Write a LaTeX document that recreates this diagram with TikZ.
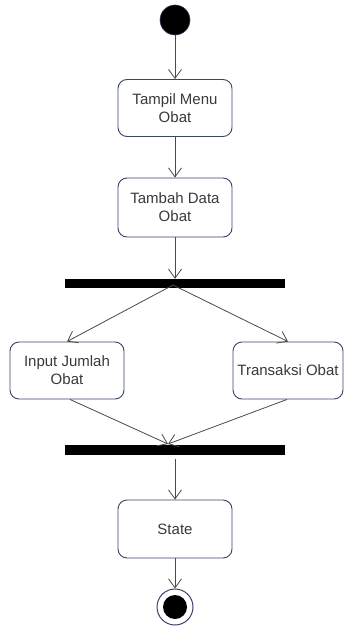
\documentclass[tikz,border=0pt]{standalone}
\usepackage{fontspec}
\setmainfont{Liberation Sans}
\usetikzlibrary{arrows.meta}
\definecolor{edgegray}{HTML}{4A4A4A}
\definecolor{boxline}{HTML}{3A4566}
\definecolor{txt}{HTML}{3A3A3A}
\begin{document}
\begin{tikzpicture}[x=1pt,y=-1pt,
  action/.style={draw=boxline, line width=0.9pt, rounded corners=9pt, fill=white,
    minimum width=114pt, minimum height=57pt, align=center, text=txt,
    font=\fontsize{15}{18}\selectfont, inner sep=1pt},
  bar/.style={fill=black, draw=none, minimum width=220pt, minimum height=9pt, inner sep=0pt},
  flow/.style={draw=edgegray, line width=0.8pt, -{Straight Barb[length=9pt,width=13pt]}}]
  \useasboundingbox (0,0) rectangle (344,628);

  % start and end points
  \node[circle, fill=black, draw=boxline, line width=0.6pt, minimum size=30pt, inner sep=0pt] (start) at (175,20) {};
  \node[circle, draw=boxline, line width=1pt, fill=white, minimum size=36pt, inner sep=0pt] (endouter) at (175,607) {};
  \node[circle, fill=black, minimum size=24pt, inner sep=0pt] (endinner) at (175,607) {};

  % actions
  \node[action] (menu) at (175,108) {Tampil Menu\\Obat};
  \node[action, minimum height=59pt] (tambah) at (175,207.5) {Tambah Data\\Obat};
  \node[action] (input) at (67,370.5) {Input Jumlah\\Obat};
  \node[action, minimum width=110pt] (transaksi) at (288,370.5) {Transaksi Obat};
  \node[action, minimum height=58pt] (state) at (175,529) {State};

  % fork and join bars
  \node[bar] (fork) at (175,283.5) {};
  \node[bar, minimum height=10pt] (join) at (175,449.5) {};
  \coordinate (forkout) at (173,285);
  \coordinate (joinin) at (168,444);

  % connectors
  \draw[flow] (start) -- (menu);
  \draw[flow] (menu) -- (tambah);
  \draw[flow] (tambah) -- (fork.north);
  \draw[flow] (forkout) -- (input.north);
  \draw[flow] (forkout) -- (transaksi.north);
  \draw[flow] ([xshift=3pt]input.south) -- (joinin);
  \draw[flow] ([xshift=-1pt]transaksi.south) -- (joinin);
  \draw[flow] ([yshift=-4pt]join.south) -- (state);
  \draw[flow] (state) -- (endouter);
\end{tikzpicture}
\end{document}
